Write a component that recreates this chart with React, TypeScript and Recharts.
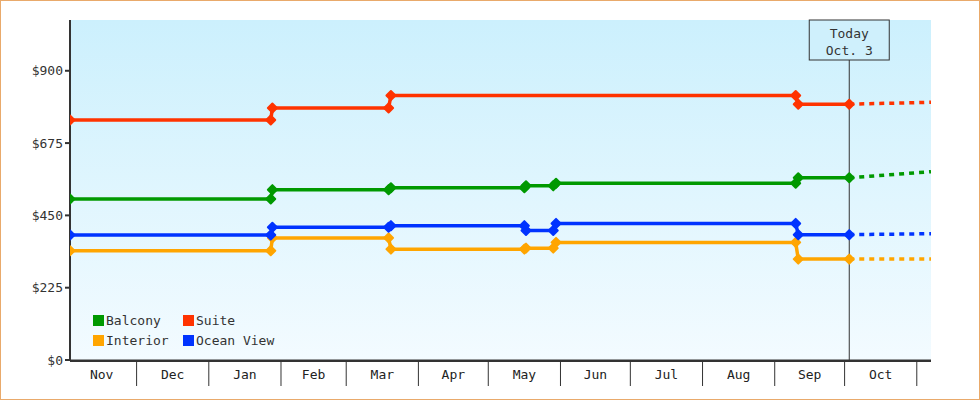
import React from 'react';
import { LineChart, Line, XAxis, YAxis, CartesianGrid, ReferenceLine, Legend } from 'recharts';

const FONT = '"DejaVu Sans Mono", monospace';
const TEXT = '#333333';

// Day index: 0 = Nov 1 of the first year shown
const monthLabels = ['Nov', 'Dec', 'Jan', 'Feb', 'Mar', 'Apr', 'May', 'Jun', 'Jul', 'Aug', 'Sep', 'Oct'];
const monthStartDays = [0, 30, 61, 92, 120, 151, 181, 212, 242, 273, 304, 334, 365];
const xDomain = [1.4, 371.1];
const todayDay = 336;
const todayLines = ['Today', 'Oct. 3'];
const yTicks = [0, 225, 450, 675, 900];
const yMax = 1058;

const suiteDays = [1.4, 87.6, 88.3, 138.2, 139.2, 313, 314.1, 336];
const suitePrices = [747, 747, 784, 784, 823, 823, 796, 796];
const suiteFuture = [796, 802];

const stepDays = [1.4, 87.6, 88.3, 138.2, 139.2, 196.5, 197.2, 208.9, 210.1, 313, 314.1, 336];
const balconyPrices = [501, 501, 530, 530, 536, 536, 542, 542, 550, 550, 567, 567];
const balconyFuture = [567, 586];
const oceanPrices = [389, 389, 413, 413, 418, 418, 403, 403, 425, 425, 390, 390];
const oceanFuture = [390, 393];
const interiorPrices = [340, 340, 380, 380, 345, 345, 348, 348, 366, 366, 314, 314];
const interiorFuture = [314, 314];
const futureDays = [336, 371.1];

const RED = '#ff3300';
const GREEN = '#009900';
const BLUE = '#0033ff';
const ORANGE = '#ffa500';

const toPts = (days: number[], vals: number[]) => days.map((d, i) => ({ x: d, y: vals[i] }));

const series = [
  { name: 'Balcony', color: GREEN, past: toPts(stepDays, balconyPrices), future: toPts(futureDays, balconyFuture) },
  { name: 'Suite', color: RED, past: toPts(suiteDays, suitePrices), future: toPts(futureDays, suiteFuture) },
  { name: 'Interior', color: ORANGE, past: toPts(stepDays, interiorPrices), future: toPts(futureDays, interiorFuture) },
  { name: 'Ocean View', color: BLUE, past: toPts(stepDays, oceanPrices), future: toPts(futureDays, oceanFuture) },
];

const monthMidDays = monthLabels.map((_, i) => (monthStartDays[i] + monthStartDays[i + 1]) / 2);
const boundaryDays = monthStartDays.slice(1);
const xTicks = [...boundaryDays, ...monthMidDays].sort((a, b) => a - b);

const MonthTick = (props: any) => {
  const { x, y, payload } = props;
  const v = payload.value;
  const bi = boundaryDays.indexOf(v);
  if (bi >= 0) {
    return <line x1={x} x2={x} y1={y} y2={y + 25} stroke={TEXT} strokeWidth={1} />;
  }
  const mi = monthMidDays.indexOf(v);
  return (
    <text x={x} y={y + 13} textAnchor="middle" dominantBaseline="central" fontFamily={FONT} fontSize={13} fill="#222">
      {monthLabels[mi]}
    </text>
  );
};

const makeDot = (color: string) => (p: any) => {
  const { cx, cy, index } = p;
  if (cx == null || cy == null) return <g key={index} />;
  const r = 4.5;
  return (
    <path
      key={index}
      d={`M${cx},${cy - r} L${cx + r},${cy} L${cx},${cy + r} L${cx - r},${cy} Z`}
      fill={color}
      stroke={color}
      strokeWidth={2}
      strokeLinejoin="round"
    />
  );
};

const TodayBox = (props: any) => {
  const vb = props.viewBox || {};
  const cx = vb.x;
  const top = vb.y;
  return (
    <g>
      <rect x={cx - 40} y={top} width={80} height={40} fill="#cff0fc" stroke={TEXT} strokeWidth={1} />
      <text x={cx} y={top + 13} textAnchor="middle" dominantBaseline="central" fontFamily={FONT} fontSize={13} fill={TEXT}>
        {todayLines[0]}
      </text>
      <text x={cx} y={top + 30} textAnchor="middle" dominantBaseline="central" fontFamily={FONT} fontSize={13} fill={TEXT}>
        {todayLines[1]}
      </text>
    </g>
  );
};

const LegendContent = () => (
  <div style={{ display: 'grid', gridTemplateColumns: '90px 110px', gridAutoRows: '20px', fontFamily: FONT, fontSize: 13, color: TEXT }}>
    {series.map((s) => (
      <div key={s.name} style={{ display: 'flex', alignItems: 'center', whiteSpace: 'nowrap' }}>
        <span style={{ display: 'inline-block', width: 11, height: 11, background: s.color, marginRight: 2 }} />
        <span>{s.name}</span>
      </div>
    ))}
  </div>
);

export default function App() {
  return (
    <div style={{ position: 'absolute', left: 0, top: 0, width: 980, height: 400, background: '#fff' }}>
      <LineChart width={980} height={400} margin={{ top: 20, right: 49, left: 0, bottom: 14 }}>
        <defs>
          <linearGradient id="bgGrad" x1="0" y1="0" x2="0" y2="1">
            <stop offset="0%" stopColor="#ccf0fd" />
            <stop offset="100%" stopColor="#f3fbff" />
          </linearGradient>
        </defs>
        <CartesianGrid fill="url(#bgGrad)" horizontal={false} vertical={false} stroke="none" />
        <XAxis
          xAxisId="m"
          dataKey="x"
          type="number"
          domain={xDomain}
          allowDataOverflow
          ticks={xTicks}
          interval={0}
          tick={<MonthTick />}
          tickLine={false}
          tickSize={0}
          tickMargin={0}
          axisLine={{ stroke: TEXT, strokeWidth: 2 }}
          height={25}
        />
        <XAxis
          xAxisId="b"
          dataKey="x"
          type="number"
          domain={xDomain}
          allowDataOverflow
          tick={false}
          tickLine={false}
          axisLine={{ stroke: TEXT, strokeWidth: 1 }}
          height={1}
        />
        <YAxis
          type="number"
          domain={[0, yMax]}
          ticks={yTicks}
          interval={0}
          width={70}
          tickFormatter={(v: number) => `$${v}`}
          tick={{ fontFamily: FONT, fontSize: 13, fill: TEXT }}
          tickSize={5}
          tickMargin={2}
          tickLine={{ stroke: TEXT, strokeWidth: 2 }}
          axisLine={{ stroke: TEXT, strokeWidth: 2 }}
        />
        <ReferenceLine xAxisId="m" x={todayDay} stroke={TEXT} strokeWidth={1} label={(p: any) => <TodayBox {...p} />} />
        {series.map((s) => (
          <Line
            key={s.name + '-past'}
            xAxisId="m"
            data={s.past}
            dataKey="y"
            name={s.name}
            type="linear"
            stroke={s.color}
            strokeWidth={3.5}
            dot={makeDot(s.color)}
            activeDot={false}
            isAnimationActive={false}
          />
        ))}
        {series.map((s) => (
          <Line
            key={s.name + '-future'}
            xAxisId="m"
            data={s.future}
            dataKey="y"
            name={s.name + ' forecast'}
            type="linear"
            stroke={s.color}
            strokeWidth={3.5}
            strokeDasharray="5 5"
            dot={false}
            activeDot={false}
            legendType="none"
            isAnimationActive={false}
          />
        ))}
        <Legend
          layout="horizontal"
          verticalAlign="middle"
          align="center"
          content={<LegendContent />}
          wrapperStyle={{ left: 93, top: 310, width: 220, height: 40 }}
        />
      </LineChart>
      <div style={{ position: 'absolute', left: 0, top: 0, width: 980, height: 400, boxSizing: 'border-box', border: '1px solid #e9aa6b', pointerEvents: 'none' }} />
    </div>
  );
}
